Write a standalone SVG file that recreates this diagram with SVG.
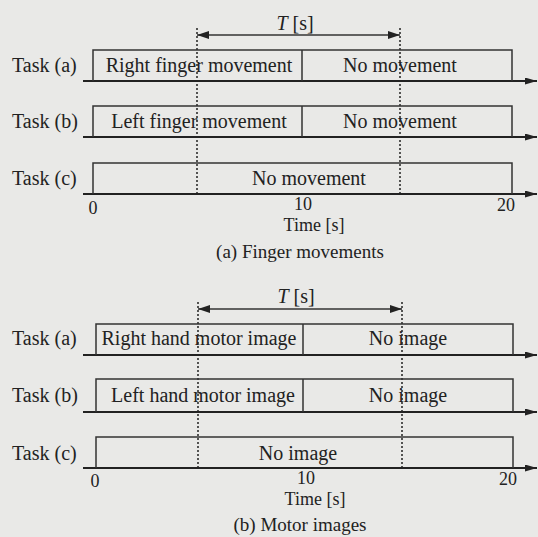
<svg xmlns="http://www.w3.org/2000/svg" width="538" height="537" viewBox="0 0 538 537">
<style>
text{font-family:"Liberation Serif","Times New Roman",serif;font-size:20px;fill:#222}
.m{text-anchor:middle}
.s{font-size:19px}
.n{font-size:18px}
.box{fill:none;stroke:#333;stroke-width:1.5}
.axis{stroke:#222;stroke-width:2;fill:none}
.dot{stroke:#222;stroke-width:1.5;stroke-dasharray:2 2;fill:none}
.tarr{stroke:#333;stroke-width:1.5;fill:none}
</style>
<defs>
<marker id="ah" viewBox="0 0 12 8" refX="12" refY="4" markerWidth="12" markerHeight="8" markerUnits="userSpaceOnUse" orient="auto-start-reverse">
<path d="M0,0 L12,4 L0,8 Z" fill="#222"/>
</marker>
<marker id="ax" viewBox="0 0 12 7" refX="12" refY="3.5" markerWidth="12" markerHeight="7" markerUnits="userSpaceOnUse" orient="auto">
<path d="M0,0 L12,3.5 L0,7 Z" fill="#222"/>
</marker>
</defs>
<rect width="538" height="537" fill="#e9e9e7"/>

<g id="connectors">
<path class="tarr" d="M197,35 H400" marker-start="url(#ah)" marker-end="url(#ah)"/>
<path class="dot" d="M197,28 V194 M400,28 V194"/>
<path class="axis" d="M83,81 H537" marker-end="url(#ax)"/>
<path class="axis" d="M83,137 H537" marker-end="url(#ax)"/>
<path class="axis" d="M83,194 H537" marker-end="url(#ax)"/>
<path class="tarr" d="M198,309 H402" marker-start="url(#ah)" marker-end="url(#ah)"/>
<path class="dot" d="M198,302 V468 M402,302 V468"/>
<path class="axis" d="M83,355 H537" marker-end="url(#ax)"/>
<path class="axis" d="M83,412 H537" marker-end="url(#ax)"/>
<path class="axis" d="M83,468 H537" marker-end="url(#ax)"/>
</g>

<g id="top-labels">
<text x="295" y="30" class="m"><tspan font-style="italic">T</tspan> [s]</text>
<text x="93" y="214" class="m n">0</text>
<text x="303" y="210" class="m n">10</text>
<text x="506" y="211" class="m n">20</text>
<text x="314" y="231" class="m n">Time [s]</text>
<text x="300" y="258" class="m s">(a) Finger movements</text>
</g>

<g id="finger-task-a">
<text x="12" y="72">Task (a)</text>
<path class="box" d="M93,81 V50 H512 V81 M302,50 V81"/>
<text x="199" y="72" class="m">Right finger movement</text>
<text x="400" y="72" class="m">No movement</text>
</g>
<g id="finger-task-b">
<text x="12" y="128">Task (b)</text>
<path class="box" d="M93,137 V106 H512 V137 M302,106 V137"/>
<text x="199" y="128" class="m">Left finger movement</text>
<text x="400" y="128" class="m">No movement</text>
</g>
<g id="finger-task-c">
<text x="12" y="185">Task (c)</text>
<path class="box" d="M93,194 V163 H512 V194"/>
<text x="309" y="185" class="m">No movement</text>
</g>

<g id="bottom-labels">
<text x="296" y="303" class="m"><tspan font-style="italic">T</tspan> [s]</text>
<text x="95" y="487" class="m n">0</text>
<text x="306" y="484" class="m n">10</text>
<text x="508" y="485" class="m n">20</text>
<text x="315" y="505" class="m n">Time [s]</text>
<text x="300" y="531" class="m s">(b) Motor images</text>
</g>

<g id="motor-task-a">
<text x="12" y="345">Task (a)</text>
<path class="box" d="M96,355 V324 H513 V355 M303,324 V355"/>
<text x="199" y="345" class="m">Right hand motor image</text>
<text x="408" y="345" class="m">No image</text>
</g>
<g id="motor-task-b">
<text x="12" y="402">Task (b)</text>
<path class="box" d="M96,412 V379 H513 V412 M303,379 V412"/>
<text x="203" y="402" class="m">Left hand motor image</text>
<text x="408" y="402" class="m">No image</text>
</g>
<g id="motor-task-c">
<text x="12" y="460">Task (c)</text>
<path class="box" d="M96,468 V437 H513 V468"/>
<text x="298" y="460" class="m">No image</text>
</g>
</svg>
